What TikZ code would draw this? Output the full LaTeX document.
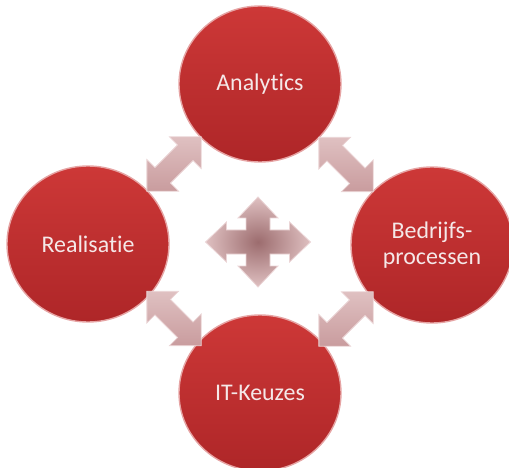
\documentclass[tikz,border=0pt]{standalone}
\usepackage{fontspec}
\setmainfont{Carlito}[RawFeature={-liga;-clig;-dlig}]
\usetikzlibrary{shapes.geometric,calc}
\definecolor{redL}{HTML}{CD3837}
\definecolor{redD}{HTML}{AE2628}
\definecolor{rim}{HTML}{E6A4A4}
\definecolor{txt}{HTML}{F5E8E8}
\definecolor{pinkL}{HTML}{DFC0C1}
\definecolor{pinkD}{HTML}{C99C9E}
\definecolor{pinkC}{HTML}{9C6C6E}
\definecolor{pinkE}{HTML}{EBD5D6}
\newcommand\dblarr[2]{%
  \begin{scope}[shift={#1},rotate=#2]
    \path[blockarrow] (-38.4,0) -- (-16,-22.4) -- (-16,-11) -- (16,-11) -- (16,-22.4)
      -- (38.4,0) -- (16,22.4) -- (16,11) -- (-16,11) -- (-16,22.4) -- cycle;
  \end{scope}}
\begin{document}
\begin{tikzpicture}[x=1bp,y=-1bp,
  bubble/.style={ellipse, minimum width=162bp, minimum height=156bp, inner sep=0pt,
    top color=redL, bottom color=redD, draw=rim, line width=1.4bp, text=txt,
    font=\fontsize{24}{26}\selectfont, align=center},
  blockarrow/.style={top color=pinkL, bottom color=pinkD, draw=pinkE, line width=0.8bp},
  quadarrow/.style={inner color=pinkC, outer color=pinkL, draw=pinkE, line width=0.8bp}]
\useasboundingbox (0,0) rectangle (509,468);
\node[bubble] (A) at (260,84) {Analytics};
\node[bubble] (R) at (88,244) {Realisatie};
\node[bubble] (B) at (432,245) {Bedrijfs-\\processen};
\node[bubble] (I) at (260,393) {IT-Keuzes};
\dblarr{($(A)!0.5!(R)$)}{45}
\dblarr{($(A)!0.5!(B)$)}{-45}
\dblarr{($(R)!0.5!(I)$)}{-45}
\dblarr{($(B)!0.5!(I)$)}{45}
\coordinate (C) at (258,242);
\path[quadarrow, shift={(C)}]
  (0,-45) -- (20,-24) -- (12,-24) -- (12,-12) -- (31.5,-12) -- (31.5,-20) -- (52.5,0)
  -- (31.5,20) -- (31.5,12) -- (12,12) -- (12,24) -- (20,24) -- (0,45)
  -- (-20,24) -- (-12,24) -- (-12,12) -- (-31.5,12) -- (-31.5,20) -- (-52.5,0)
  -- (-31.5,-20) -- (-31.5,-12) -- (-12,-12) -- (-12,-24) -- (-20,-24) -- cycle;
\end{tikzpicture}
\end{document}
